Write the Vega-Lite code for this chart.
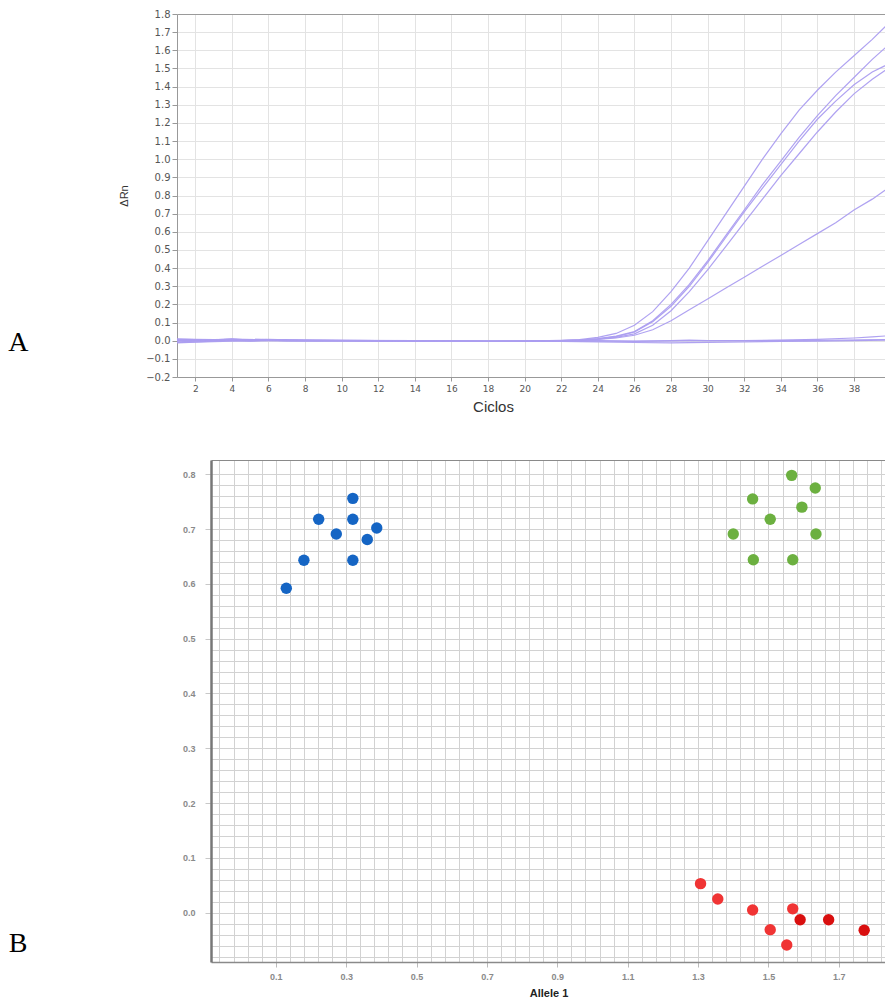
{
  "$schema": "https://vega.github.io/schema/vega-lite/v6.json",
  "padding": {"left": 8, "top": 9, "right": 0, "bottom": 0},
  "background": "white",
  "config": {"view": {"stroke": null}},
  "spacing": 46,
  "datasets": {
    "curvas": [
      {"pocillo":"C1","ciclo":1,"drn":0.008},{"pocillo":"C1","ciclo":2,"drn":0.006},{"pocillo":"C1","ciclo":3,"drn":0.005},{"pocillo":"C1","ciclo":4,"drn":0.01},{"pocillo":"C1","ciclo":5,"drn":0.004},{"pocillo":"C1","ciclo":6,"drn":0.008},{"pocillo":"C1","ciclo":7,"drn":0.004},{"pocillo":"C1","ciclo":8,"drn":0.003},{"pocillo":"C1","ciclo":10,"drn":0.002},{"pocillo":"C1","ciclo":12,"drn":0.001},{"pocillo":"C1","ciclo":14,"drn":0.0},{"pocillo":"C1","ciclo":16,"drn":-0.001},{"pocillo":"C1","ciclo":18,"drn":-0.003},{"pocillo":"C1","ciclo":20,"drn":-0.002},{"pocillo":"C1","ciclo":22,"drn":0.002},{"pocillo":"C1","ciclo":23,"drn":0.006},{"pocillo":"C1","ciclo":24,"drn":0.018},{"pocillo":"C1","ciclo":25,"drn":0.04},{"pocillo":"C1","ciclo":26,"drn":0.085},{"pocillo":"C1","ciclo":27,"drn":0.16},{"pocillo":"C1","ciclo":28,"drn":0.27},{"pocillo":"C1","ciclo":29,"drn":0.4},{"pocillo":"C1","ciclo":30,"drn":0.55},{"pocillo":"C1","ciclo":31,"drn":0.7},{"pocillo":"C1","ciclo":32,"drn":0.85},{"pocillo":"C1","ciclo":33,"drn":1.0},{"pocillo":"C1","ciclo":34,"drn":1.14},{"pocillo":"C1","ciclo":35,"drn":1.27},{"pocillo":"C1","ciclo":36,"drn":1.38},{"pocillo":"C1","ciclo":37,"drn":1.48},{"pocillo":"C1","ciclo":38,"drn":1.57},{"pocillo":"C1","ciclo":39,"drn":1.66},{"pocillo":"C1","ciclo":40,"drn":1.76},
      {"pocillo":"C2","ciclo":1,"drn":0.0},{"pocillo":"C2","ciclo":2,"drn":0.002},{"pocillo":"C2","ciclo":3,"drn":0.003},{"pocillo":"C2","ciclo":4,"drn":0.006},{"pocillo":"C2","ciclo":5,"drn":0.002},{"pocillo":"C2","ciclo":6,"drn":0.005},{"pocillo":"C2","ciclo":7,"drn":0.002},{"pocillo":"C2","ciclo":8,"drn":0.001},{"pocillo":"C2","ciclo":10,"drn":0.001},{"pocillo":"C2","ciclo":12,"drn":0.0},{"pocillo":"C2","ciclo":14,"drn":-0.001},{"pocillo":"C2","ciclo":16,"drn":-0.002},{"pocillo":"C2","ciclo":18,"drn":-0.003},{"pocillo":"C2","ciclo":20,"drn":-0.003},{"pocillo":"C2","ciclo":22,"drn":0.0},{"pocillo":"C2","ciclo":23,"drn":0.004},{"pocillo":"C2","ciclo":24,"drn":0.012},{"pocillo":"C2","ciclo":25,"drn":0.025},{"pocillo":"C2","ciclo":26,"drn":0.05},{"pocillo":"C2","ciclo":27,"drn":0.11},{"pocillo":"C2","ciclo":28,"drn":0.2},{"pocillo":"C2","ciclo":29,"drn":0.31},{"pocillo":"C2","ciclo":30,"drn":0.44},{"pocillo":"C2","ciclo":31,"drn":0.58},{"pocillo":"C2","ciclo":32,"drn":0.72},{"pocillo":"C2","ciclo":33,"drn":0.86},{"pocillo":"C2","ciclo":34,"drn":0.99},{"pocillo":"C2","ciclo":35,"drn":1.12},{"pocillo":"C2","ciclo":36,"drn":1.24},{"pocillo":"C2","ciclo":37,"drn":1.35},{"pocillo":"C2","ciclo":38,"drn":1.45},{"pocillo":"C2","ciclo":39,"drn":1.55},{"pocillo":"C2","ciclo":40,"drn":1.64},
      {"pocillo":"C3","ciclo":1,"drn":-0.006},{"pocillo":"C3","ciclo":2,"drn":-0.002},{"pocillo":"C3","ciclo":3,"drn":0.0},{"pocillo":"C3","ciclo":4,"drn":0.004},{"pocillo":"C3","ciclo":5,"drn":0.0},{"pocillo":"C3","ciclo":6,"drn":0.003},{"pocillo":"C3","ciclo":7,"drn":0.0},{"pocillo":"C3","ciclo":8,"drn":0.0},{"pocillo":"C3","ciclo":10,"drn":0.0},{"pocillo":"C3","ciclo":12,"drn":-0.001},{"pocillo":"C3","ciclo":14,"drn":-0.002},{"pocillo":"C3","ciclo":16,"drn":-0.002},{"pocillo":"C3","ciclo":18,"drn":-0.004},{"pocillo":"C3","ciclo":20,"drn":-0.003},{"pocillo":"C3","ciclo":22,"drn":0.0},{"pocillo":"C3","ciclo":23,"drn":0.003},{"pocillo":"C3","ciclo":24,"drn":0.01},{"pocillo":"C3","ciclo":25,"drn":0.022},{"pocillo":"C3","ciclo":26,"drn":0.048},{"pocillo":"C3","ciclo":27,"drn":0.105},{"pocillo":"C3","ciclo":28,"drn":0.19},{"pocillo":"C3","ciclo":29,"drn":0.3},{"pocillo":"C3","ciclo":30,"drn":0.43},{"pocillo":"C3","ciclo":31,"drn":0.57},{"pocillo":"C3","ciclo":32,"drn":0.71},{"pocillo":"C3","ciclo":33,"drn":0.84},{"pocillo":"C3","ciclo":34,"drn":0.97},{"pocillo":"C3","ciclo":35,"drn":1.1},{"pocillo":"C3","ciclo":36,"drn":1.22},{"pocillo":"C3","ciclo":37,"drn":1.32},{"pocillo":"C3","ciclo":38,"drn":1.41},{"pocillo":"C3","ciclo":39,"drn":1.48},{"pocillo":"C3","ciclo":40,"drn":1.53},
      {"pocillo":"C4","ciclo":1,"drn":-0.01},{"pocillo":"C4","ciclo":2,"drn":-0.006},{"pocillo":"C4","ciclo":3,"drn":-0.003},{"pocillo":"C4","ciclo":4,"drn":0.002},{"pocillo":"C4","ciclo":5,"drn":-0.002},{"pocillo":"C4","ciclo":6,"drn":0.001},{"pocillo":"C4","ciclo":7,"drn":-0.001},{"pocillo":"C4","ciclo":8,"drn":-0.001},{"pocillo":"C4","ciclo":10,"drn":-0.001},{"pocillo":"C4","ciclo":12,"drn":-0.002},{"pocillo":"C4","ciclo":14,"drn":-0.002},{"pocillo":"C4","ciclo":16,"drn":-0.003},{"pocillo":"C4","ciclo":18,"drn":-0.004},{"pocillo":"C4","ciclo":20,"drn":-0.004},{"pocillo":"C4","ciclo":22,"drn":-0.001},{"pocillo":"C4","ciclo":23,"drn":0.002},{"pocillo":"C4","ciclo":24,"drn":0.008},{"pocillo":"C4","ciclo":25,"drn":0.018},{"pocillo":"C4","ciclo":26,"drn":0.038},{"pocillo":"C4","ciclo":27,"drn":0.085},{"pocillo":"C4","ciclo":28,"drn":0.165},{"pocillo":"C4","ciclo":29,"drn":0.27},{"pocillo":"C4","ciclo":30,"drn":0.39},{"pocillo":"C4","ciclo":31,"drn":0.52},{"pocillo":"C4","ciclo":32,"drn":0.65},{"pocillo":"C4","ciclo":33,"drn":0.78},{"pocillo":"C4","ciclo":34,"drn":0.91},{"pocillo":"C4","ciclo":35,"drn":1.03},{"pocillo":"C4","ciclo":36,"drn":1.15},{"pocillo":"C4","ciclo":37,"drn":1.26},{"pocillo":"C4","ciclo":38,"drn":1.36},{"pocillo":"C4","ciclo":39,"drn":1.44},{"pocillo":"C4","ciclo":40,"drn":1.51},
      {"pocillo":"C5","ciclo":1,"drn":0.004},{"pocillo":"C5","ciclo":2,"drn":0.003},{"pocillo":"C5","ciclo":3,"drn":0.004},{"pocillo":"C5","ciclo":4,"drn":0.007},{"pocillo":"C5","ciclo":5,"drn":0.003},{"pocillo":"C5","ciclo":6,"drn":0.006},{"pocillo":"C5","ciclo":7,"drn":0.003},{"pocillo":"C5","ciclo":8,"drn":0.002},{"pocillo":"C5","ciclo":10,"drn":0.001},{"pocillo":"C5","ciclo":12,"drn":0.0},{"pocillo":"C5","ciclo":14,"drn":-0.001},{"pocillo":"C5","ciclo":16,"drn":-0.002},{"pocillo":"C5","ciclo":18,"drn":-0.003},{"pocillo":"C5","ciclo":20,"drn":-0.002},{"pocillo":"C5","ciclo":22,"drn":0.0},{"pocillo":"C5","ciclo":23,"drn":0.002},{"pocillo":"C5","ciclo":24,"drn":0.007},{"pocillo":"C5","ciclo":25,"drn":0.015},{"pocillo":"C5","ciclo":26,"drn":0.03},{"pocillo":"C5","ciclo":27,"drn":0.06},{"pocillo":"C5","ciclo":28,"drn":0.11},{"pocillo":"C5","ciclo":29,"drn":0.17},{"pocillo":"C5","ciclo":30,"drn":0.23},{"pocillo":"C5","ciclo":31,"drn":0.29},{"pocillo":"C5","ciclo":32,"drn":0.35},{"pocillo":"C5","ciclo":33,"drn":0.41},{"pocillo":"C5","ciclo":34,"drn":0.47},{"pocillo":"C5","ciclo":35,"drn":0.53},{"pocillo":"C5","ciclo":36,"drn":0.59},{"pocillo":"C5","ciclo":37,"drn":0.65},{"pocillo":"C5","ciclo":38,"drn":0.72},{"pocillo":"C5","ciclo":39,"drn":0.78},{"pocillo":"C5","ciclo":40,"drn":0.85},
      {"pocillo":"C6","ciclo":1,"drn":0.01},{"pocillo":"C6","ciclo":2,"drn":0.008},{"pocillo":"C6","ciclo":3,"drn":0.006},{"pocillo":"C6","ciclo":4,"drn":0.008},{"pocillo":"C6","ciclo":6,"drn":0.006},{"pocillo":"C6","ciclo":8,"drn":0.003},{"pocillo":"C6","ciclo":10,"drn":0.002},{"pocillo":"C6","ciclo":14,"drn":0.0},{"pocillo":"C6","ciclo":18,"drn":-0.002},{"pocillo":"C6","ciclo":22,"drn":-0.001},{"pocillo":"C6","ciclo":26,"drn":-0.002},{"pocillo":"C6","ciclo":28,"drn":-0.001},{"pocillo":"C6","ciclo":30,"drn":0.0},{"pocillo":"C6","ciclo":32,"drn":0.001},{"pocillo":"C6","ciclo":34,"drn":0.003},{"pocillo":"C6","ciclo":36,"drn":0.007},{"pocillo":"C6","ciclo":38,"drn":0.015},{"pocillo":"C6","ciclo":39,"drn":0.021},{"pocillo":"C6","ciclo":40,"drn":0.028},
      {"pocillo":"C7","ciclo":1,"drn":-0.012},{"pocillo":"C7","ciclo":2,"drn":-0.008},{"pocillo":"C7","ciclo":4,"drn":-0.002},{"pocillo":"C7","ciclo":6,"drn":0.0},{"pocillo":"C7","ciclo":8,"drn":-0.002},{"pocillo":"C7","ciclo":10,"drn":-0.002},{"pocillo":"C7","ciclo":14,"drn":-0.003},{"pocillo":"C7","ciclo":18,"drn":-0.004},{"pocillo":"C7","ciclo":22,"drn":-0.004},{"pocillo":"C7","ciclo":24,"drn":-0.006},{"pocillo":"C7","ciclo":26,"drn":-0.01},{"pocillo":"C7","ciclo":28,"drn":-0.012},{"pocillo":"C7","ciclo":29,"drn":-0.011},{"pocillo":"C7","ciclo":30,"drn":-0.009},{"pocillo":"C7","ciclo":32,"drn":-0.006},{"pocillo":"C7","ciclo":34,"drn":-0.004},{"pocillo":"C7","ciclo":36,"drn":-0.002},{"pocillo":"C7","ciclo":38,"drn":0.0},{"pocillo":"C7","ciclo":40,"drn":0.004},
      {"pocillo":"C8","ciclo":1,"drn":0.002},{"pocillo":"C8","ciclo":3,"drn":0.004},{"pocillo":"C8","ciclo":4,"drn":0.008},{"pocillo":"C8","ciclo":6,"drn":0.006},{"pocillo":"C8","ciclo":8,"drn":0.002},{"pocillo":"C8","ciclo":12,"drn":0.0},{"pocillo":"C8","ciclo":16,"drn":-0.002},{"pocillo":"C8","ciclo":20,"drn":-0.002},{"pocillo":"C8","ciclo":24,"drn":0.0},{"pocillo":"C8","ciclo":26,"drn":-0.004},{"pocillo":"C8","ciclo":28,"drn":0.0},{"pocillo":"C8","ciclo":29,"drn":0.003},{"pocillo":"C8","ciclo":30,"drn":0.0},{"pocillo":"C8","ciclo":32,"drn":0.0},{"pocillo":"C8","ciclo":36,"drn":0.002},{"pocillo":"C8","ciclo":40,"drn":0.006}
    ],
    "alelos": [
      {"grupo":"Alelo 2","alelo1":0.319,"alelo2":0.756},
      {"grupo":"Alelo 2","alelo1":0.222,"alelo2":0.718},
      {"grupo":"Alelo 2","alelo1":0.319,"alelo2":0.718},
      {"grupo":"Alelo 2","alelo1":0.387,"alelo2":0.702},
      {"grupo":"Alelo 2","alelo1":0.272,"alelo2":0.691},
      {"grupo":"Alelo 2","alelo1":0.36,"alelo2":0.681},
      {"grupo":"Alelo 2","alelo1":0.18,"alelo2":0.643},
      {"grupo":"Alelo 2","alelo1":0.319,"alelo2":0.643},
      {"grupo":"Alelo 2","alelo1":0.13,"alelo2":0.592},
      {"grupo":"Heterocigoto","alelo1":1.566,"alelo2":0.798},
      {"grupo":"Heterocigoto","alelo1":1.633,"alelo2":0.775},
      {"grupo":"Heterocigoto","alelo1":1.455,"alelo2":0.755},
      {"grupo":"Heterocigoto","alelo1":1.595,"alelo2":0.74},
      {"grupo":"Heterocigoto","alelo1":1.505,"alelo2":0.718},
      {"grupo":"Heterocigoto","alelo1":1.4,"alelo2":0.691},
      {"grupo":"Heterocigoto","alelo1":1.635,"alelo2":0.691},
      {"grupo":"Heterocigoto","alelo1":1.457,"alelo2":0.644},
      {"grupo":"Heterocigoto","alelo1":1.569,"alelo2":0.644},
      {"grupo":"Alelo 1","alelo1":1.307,"alelo2":0.053},
      {"grupo":"Alelo 1","alelo1":1.356,"alelo2":0.025},
      {"grupo":"Alelo 1","alelo1":1.455,"alelo2":0.005},
      {"grupo":"Alelo 1","alelo1":1.569,"alelo2":0.007},
      {"grupo":"Alelo 1","alelo1":1.505,"alelo2":-0.031},
      {"grupo":"Alelo 1","alelo1":1.552,"alelo2":-0.059},
      {"grupo":"Alelo 1 (dup.)","alelo1":1.59,"alelo2":-0.013},
      {"grupo":"Alelo 1 (dup.)","alelo1":1.671,"alelo2":-0.013},
      {"grupo":"Alelo 1 (dup.)","alelo1":1.772,"alelo2":-0.032}
    ]
  },
  "vconcat": [
    {
      "width": 709,
      "height": 363,
      "title": {"text": "A", "orient": "left", "anchor": "start", "frame": "group", "angle": 0, "align": "right", "baseline": "bottom", "font": "Liberation Serif", "fontSize": 28, "fontWeight": "normal", "color": "#000000", "offset": 70, "dy": -20},
      "data": {"name": "curvas"},
      "mark": {"type": "line", "clip": true, "strokeWidth": 1.2, "color": "#ab9df0", "opacity": 0.95},
      "encoding": {
        "x": {"field": "ciclo", "type": "quantitative",
          "scale": {"domain": [1, 39.75], "nice": false, "zero": false},
          "axis": {"values": [2,4,6,8,10,12,14,16,18,20,22,24,26,28,30,32,34,36,38],
            "grid": true, "gridColor": "#e3e3e3", "gridWidth": 1,
            "tickSize": 4, "tickColor": "#999", "domainColor": "#999",
            "labelFont": "DejaVu Sans", "labelFontSize": 9, "labelColor": "#555", "labelPadding": 3,
            "title": "Ciclos", "titleX": 316, "titleFont": "Liberation Sans", "titleFontSize": 15, "titleFontWeight": "normal", "titleColor": "#333", "titlePadding": 6}},
        "y": {"field": "drn", "type": "quantitative",
          "scale": {"domain": [-0.2, 1.8], "nice": false, "zero": false},
          "axis": {"values": [-0.2,-0.1,0,0.1,0.2,0.3,0.4,0.5,0.6,0.7,0.8,0.9,1.0,1.1,1.2,1.3,1.4,1.5,1.6,1.7,1.8],
            "format": ".1f",
            "grid": true, "gridWidth": 1,
            "gridColor": {"condition": {"test": "datum.value > 1.79", "value": "#9a9a9a"}, "value": "#e3e3e3"},
            "tickSize": 5, "tickColor": "#999", "domainColor": "#999",
            "labelFont": "DejaVu Sans", "labelFontSize": 10, "labelColor": "#555", "labelPadding": 2,
            "title": "ΔRn", "titleFont": "Liberation Sans", "titleFontSize": 11, "titleFontWeight": "normal", "titleColor": "#333", "titlePadding": 16}},
        "detail": {"field": "pocillo", "type": "nominal"}
      }
    },
    {
      "width": 709,
      "height": 502,
      "title": {"text": "B", "orient": "left", "anchor": "start", "frame": "group", "angle": 0, "align": "right", "baseline": "bottom", "font": "Liberation Serif", "fontSize": 28, "fontWeight": "normal", "color": "#000000", "offset": 131, "dy": -4},
      "data": {"name": "alelos"},
      "mark": {"type": "point", "filled": true, "size": 130, "opacity": 1},
      "encoding": {
        "x": {"field": "alelo1", "type": "quantitative",
          "scale": {"domain": [-0.084, 1.834], "nice": false, "zero": false, "range": [34, 709]},
          "axis": {"values": [-0.06,-0.02,0.02,0.06,0.1,0.14,0.18,0.22,0.26,0.3,0.34,0.38,0.42,0.46,0.5,0.54,0.58,0.62,0.66,0.7,0.74,0.78,0.82,0.86,0.9,0.94,0.98,1.02,1.06,1.1,1.14,1.18,1.22,1.26,1.3,1.34,1.38,1.42,1.46,1.5,1.54,1.58,1.62,1.66,1.7,1.74,1.78,1.82],
            "labelExpr": "(abs((datum.value - 0.1) / 0.2 - round((datum.value - 0.1) / 0.2)) < 0.01 && datum.value > 0.05) ? format(datum.value, '.1f') : ''",
            "grid": true, "gridColor": "#d2d2d2", "gridWidth": 1,
            "tickSize": 5, "tickColor": "#bbb",
            "tickOpacity": {"condition": {"test": "abs((datum.value - 0.1) / 0.2 - round((datum.value - 0.1) / 0.2)) < 0.01", "value": 1}, "value": 0},
            "domainColor": "#8a8a8a", "domainWidth": 1.5,
            "labelFont": "Liberation Sans", "labelFontSize": 9, "labelFontWeight": "bold", "labelColor": "#8a8a8a", "labelPadding": 5,
            "title": "Allele 1", "titleFont": "Liberation Sans", "titleFontSize": 11, "titleFontWeight": "bold", "titleColor": "#222", "titlePadding": 6}},
        "y": {"field": "alelo2", "type": "quantitative",
          "scale": {"domain": [-0.09, 0.826], "nice": false, "zero": false},
          "axis": {"values": [-0.08,-0.06,-0.04,-0.02,0,0.02,0.04,0.06,0.08,0.1,0.12,0.14,0.16,0.18,0.2,0.22,0.24,0.26,0.28,0.3,0.32,0.34,0.36,0.38,0.4,0.42,0.44,0.46,0.48,0.5,0.52,0.54,0.56,0.58,0.6,0.62,0.64,0.66,0.68,0.7,0.72,0.74,0.76,0.78,0.8,0.826],
            "labelExpr": "(abs(datum.value * 10 - round(datum.value * 10)) < 0.01 && datum.value > -0.05) ? format(datum.value, '.1f') : ''",
            "offset": -34,
            "grid": true, "gridWidth": 1,
            "gridColor": {"condition": {"test": "datum.value > 0.82", "value": "#8a8a8a"}, "value": "#d2d2d2"},
            "tickSize": 6, "tickColor": "#c8c8c8",
            "tickOpacity": {"condition": {"test": "abs(datum.value * 10 - round(datum.value * 10)) < 0.01 && datum.value > -0.05", "value": 1}, "value": 0},
            "domainColor": "#777", "domainWidth": 2.5,
            "labelFont": "Liberation Sans", "labelFontSize": 9, "labelFontWeight": "bold", "labelColor": "#8a8a8a", "labelPadding": 10,
            "title": null}},
        "color": {"field": "grupo", "type": "nominal", "legend": null,
          "scale": {"domain": ["Alelo 2", "Heterocigoto", "Alelo 1", "Alelo 1 (dup.)"], "range": ["#1565c4", "#6cb040", "#f03434", "#d90f0f"]}}
      }
    }
  ]
}
